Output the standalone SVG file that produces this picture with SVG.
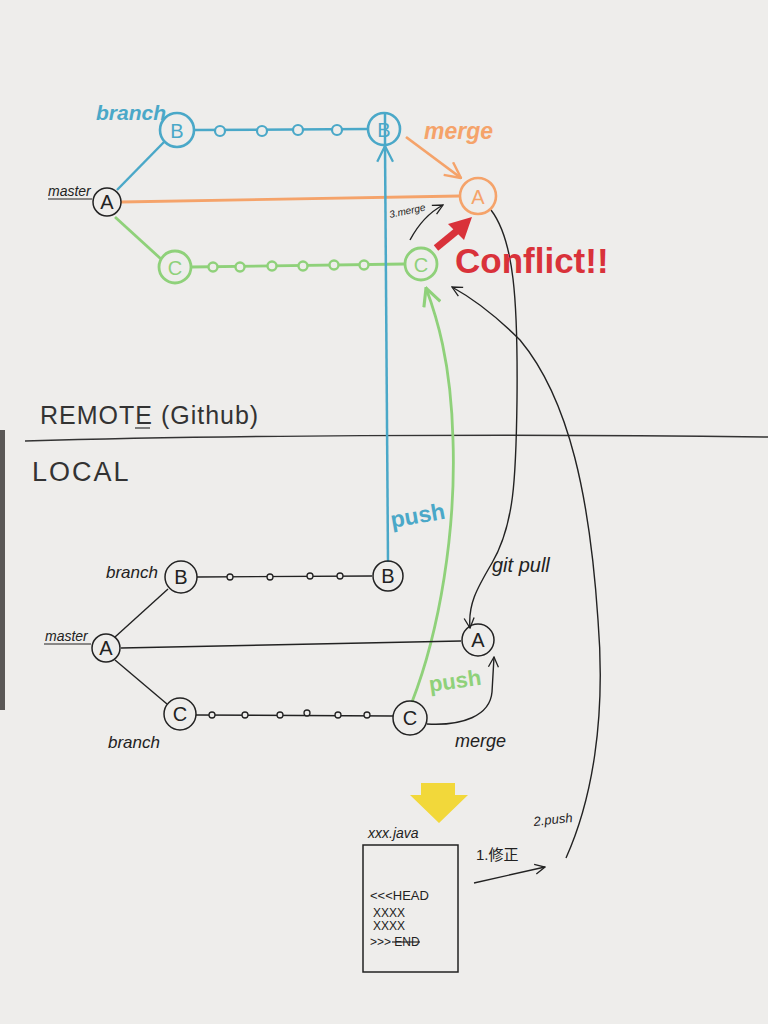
<svg xmlns="http://www.w3.org/2000/svg" width="768" height="1024" viewBox="0 0 768 1024">
<defs>
<marker id="ak" viewBox="0 0 12 12" refX="11" refY="6" markerWidth="12" markerHeight="12" markerUnits="userSpaceOnUse" orient="auto"><path d="M1,1 L11,6 L1,11" fill="none" stroke="#222" stroke-width="1.3"/></marker>
<marker id="ab" viewBox="0 0 16 16" refX="15" refY="8" markerWidth="18" markerHeight="18" markerUnits="userSpaceOnUse" orient="auto"><path d="M1,1 L15,8 L1,15" fill="none" stroke="#4aa8c8" stroke-width="2"/></marker>
<marker id="ag" viewBox="0 0 16 16" refX="15" refY="8" markerWidth="20" markerHeight="20" markerUnits="userSpaceOnUse" orient="auto"><path d="M1,1 L15,8 L1,15" fill="none" stroke="#8fd17a" stroke-width="2.5"/></marker>
<marker id="ao" viewBox="0 0 16 16" refX="15" refY="8" markerWidth="18" markerHeight="18" markerUnits="userSpaceOnUse" orient="auto"><path d="M1,1 L15,8 L1,15" fill="none" stroke="#f5a36a" stroke-width="2.2"/></marker>
</defs>
<style>
.hand{font-family:"Liberation Sans","Noto Sans CJK JP",sans-serif;font-style:italic}
.lbl{font-family:"Liberation Sans",sans-serif}
.bk{stroke:#222;fill:none;stroke-width:1.4}
.bl{stroke:#4aa8c8;fill:none;stroke-width:2.5}
.gr{stroke:#8fd17a;fill:none;stroke-width:2.8}
.or{stroke:#f5a36a;fill:none;stroke-width:2.8}
.nk{fill:none;stroke:#222;stroke-width:1.5}
.nb{fill:none;stroke:#4aa8c8;stroke-width:2.6}
.ng{fill:none;stroke:#8fd17a;stroke-width:2.8}
.no{fill:none;stroke:#f5a36a;stroke-width:2.6}
.lt{font-family:"Liberation Sans",sans-serif;font-size:20px;text-anchor:middle}
</style>
<rect width="768" height="1024" fill="#eeedeb"/>
<rect x="0" y="430" width="5" height="280" fill="#5a5856"/>

<!-- section divider and headings -->
<g id="divider">
<path d="M25,441 C200,436 500,433 768,437" stroke="#333" stroke-width="1.5" fill="none"/>
<text x="40" y="424" class="lbl" font-size="25" fill="#333" letter-spacing="1">REMOTE (Github)</text>
<line x1="135" y1="428" x2="150" y2="428" stroke="#333" stroke-width="1.2"/>
<text x="32" y="481" class="lbl" font-size="27" fill="#333" letter-spacing="2">LOCAL</text>
</g>

<g id="connectors">
<!-- remote -->
<line x1="117" y1="190" x2="165" y2="141" class="bl"/>
<line x1="194" y1="130" x2="368" y2="129" class="bl"/>
<line x1="121" y1="202" x2="460" y2="196" class="or"/>
<line x1="115" y1="217" x2="161" y2="259" class="gr"/>
<line x1="191" y1="267" x2="405" y2="264" class="gr"/>
<line x1="406" y1="137" x2="461" y2="178" class="or" marker-end="url(#ao)"/>
<line x1="388" y1="562" x2="385" y2="146" class="bl" marker-end="url(#ab)"/>
<line x1="385" y1="146" x2="385" y2="113" class="bl"/>
<path d="M412,702 C440,630 456,530 453,440 C451,360 436,315 426,288" class="gr" marker-end="url(#ag)"/>
<line x1="436" y1="248" x2="458" y2="230" stroke="#d9323a" stroke-width="7"/>
<polygon points="472,217 448,224 464,240" fill="#d9323a"/>
<path d="M410,240 C418,225 430,212 443,205" class="bk" marker-end="url(#ak)"/>
<path d="M491,210 C514,240 518,300 517,400 C516,480 514,525 492,563 C476,590 468,605 470,628" class="bk" marker-end="url(#ak)"/>
<path d="M566,858 C592,800 606,720 598,620 C590,500 570,400 520,340 C495,315 472,298 452,287" class="bk" marker-end="url(#ak)"/>
<!-- local -->
<line x1="115" y1="637" x2="168" y2="589" class="bk"/>
<line x1="197" y1="577" x2="372" y2="576" class="bk"/>
<line x1="121" y1="648" x2="461" y2="641" class="bk"/>
<line x1="115" y1="660" x2="167" y2="704" class="bk"/>
<line x1="196" y1="715" x2="393" y2="716" class="bk"/>
<path d="M427,724 C462,726 490,716 492,692 L494,657" class="bk" marker-end="url(#ak)"/>
<line x1="474" y1="883" x2="545" y2="867" class="bk" marker-end="url(#ak)"/>
</g>

<!-- remote nodes -->
<g id="remote-master-A">
<circle cx="107" cy="202" r="14" class="nk"/>
<text x="107" y="209" class="lt" fill="#222">A</text>
<text x="48" y="196" class="hand" font-size="14" fill="#222">master</text>
<line x1="48" y1="199" x2="92" y2="199" stroke="#222" stroke-width="1.2"/>
</g>
<g id="remote-B">
<circle cx="177" cy="130" r="17" class="nb"/>
<text x="177" y="138" class="lt" fill="#4aa8c8">B</text>
<text x="96" y="120" class="hand" font-size="21" font-weight="bold" fill="#4aa8c8">branch</text>
</g>
<g id="remote-B-commits" fill="#eeedeb" stroke="#4aa8c8" stroke-width="2.2">
<circle cx="220" cy="131" r="5"/><circle cx="262" cy="131" r="5"/><circle cx="298" cy="130" r="5"/><circle cx="337" cy="130" r="5"/>
</g>
<g id="remote-B2">
<circle cx="384" cy="129" r="16" class="nb"/>
<text x="384" y="137" class="lt" fill="#4aa8c8">B</text>
</g>
<g id="remote-C">
<circle cx="175" cy="267" r="16" class="ng"/>
<text x="175" y="275" class="lt" fill="#8fd17a">C</text>
</g>
<g id="remote-C-commits" fill="#eeedeb" stroke="#8fd17a" stroke-width="2.4">
<circle cx="213" cy="267" r="4.5"/><circle cx="240" cy="267" r="4.5"/><circle cx="272" cy="266" r="4.5"/><circle cx="303" cy="266" r="4.5"/><circle cx="334" cy="265" r="4.5"/><circle cx="364" cy="265" r="4.5"/>
</g>
<g id="remote-C2">
<circle cx="421" cy="264" r="16" class="ng"/>
<text x="421" y="272" class="lt" fill="#8fd17a">C</text>
</g>
<g id="remote-A-merged">
<circle cx="478" cy="196" r="18" class="no"/>
<text x="478" y="204" class="lt" fill="#f5a36a">A</text>
</g>

<!-- connector labels -->
<g id="labels">
<text x="424" y="139" class="hand" font-size="23" font-weight="bold" fill="#f5a36a">merge</text>
<text x="455" y="273" class="lbl" font-size="35" font-weight="bold" fill="#d9323a">Conflict!!</text>
<text x="390" y="218" class="hand" font-size="10" fill="#222" transform="rotate(-12 390 218)">3.merge</text>
<text x="392" y="528" class="lbl" font-size="23" font-weight="bold" fill="#4aa8c8" transform="rotate(-10 392 528)">push</text>
<text x="430" y="692" class="lbl" font-size="22" font-weight="bold" fill="#8fd17a" transform="rotate(-8 430 692)">push</text>
<text x="492" y="572" class="hand" font-size="20" fill="#222">git pull</text>
<text x="455" y="747" class="hand" font-size="18" fill="#222">merge</text>
<text x="534" y="826" class="hand" font-size="13" fill="#222" transform="rotate(-6 534 826)">2.push</text>
<text x="476" y="860" font-family="Liberation Sans,'Noto Sans CJK JP',sans-serif" font-size="15" fill="#222">1.修正</text>
</g>

<!-- local nodes -->
<g id="local-master-A">
<circle cx="106" cy="648" r="14" class="nk"/>
<text x="106" y="655" class="lt" fill="#222">A</text>
<text x="45" y="641" class="hand" font-size="14" fill="#222">master</text>
<line x1="44" y1="644" x2="91" y2="644" stroke="#222" stroke-width="1.2"/>
</g>
<g id="local-B">
<circle cx="181" cy="577" r="16" class="nk"/>
<text x="181" y="584" class="lt" fill="#222">B</text>
<text x="106" y="578" class="hand" font-size="17" fill="#222">branch</text>
</g>
<g id="local-B-commits" fill="#eeedeb" stroke="#222" stroke-width="1.3">
<circle cx="230" cy="577" r="3"/><circle cx="270" cy="577" r="3"/><circle cx="310" cy="576" r="3"/><circle cx="340" cy="576" r="3"/>
</g>
<g id="local-B2">
<circle cx="388" cy="576" r="15" class="nk"/>
<text x="388" y="583" class="lt" fill="#222">B</text>
</g>
<g id="local-C">
<circle cx="180" cy="714" r="16" class="nk"/>
<text x="180" y="721" class="lt" fill="#222">C</text>
<text x="108" y="748" class="hand" font-size="17" fill="#222">branch</text>
</g>
<g id="local-C-commits" fill="#eeedeb" stroke="#222" stroke-width="1.3">
<circle cx="212" cy="715" r="3"/><circle cx="245" cy="715" r="3"/><circle cx="280" cy="715" r="3"/><circle cx="307" cy="713" r="3"/><circle cx="338" cy="715" r="3"/><circle cx="367" cy="715" r="3"/>
</g>
<g id="local-C2">
<circle cx="410" cy="718" r="17" class="nk"/>
<text x="410" y="725" class="lt" fill="#222">C</text>
</g>
<g id="local-A-merged">
<circle cx="478" cy="640" r="16" class="nk"/>
<text x="478" y="647" class="lt" fill="#222">A</text>
</g>

<!-- yellow arrow -->
<g id="yellow-arrow">
<polygon points="421,783 455,783 455,795 468,795 439,823 410,795 421,795" fill="#f2d83a"/>
</g>

<!-- file box -->
<g id="file-box">
<text x="368" y="838" class="hand" font-size="14" fill="#222">xxx.java</text>
<rect x="363" y="845" width="95" height="127" fill="none" stroke="#222" stroke-width="1.5"/>
<text x="370" y="900" class="lbl" font-size="13" fill="#222">&lt;&lt;&lt;HEAD</text>
<text x="373" y="917" class="lbl" font-size="12" fill="#222">XXXX</text>
<text x="373" y="930" class="lbl" font-size="12" fill="#222">XXXX</text>
<text x="370" y="946" class="lbl" font-size="12" fill="#222">&gt;&gt;&gt; END</text>
<line x1="392" y1="942" x2="420" y2="942" stroke="#222" stroke-width="1.2"/>
</g>
</svg>
